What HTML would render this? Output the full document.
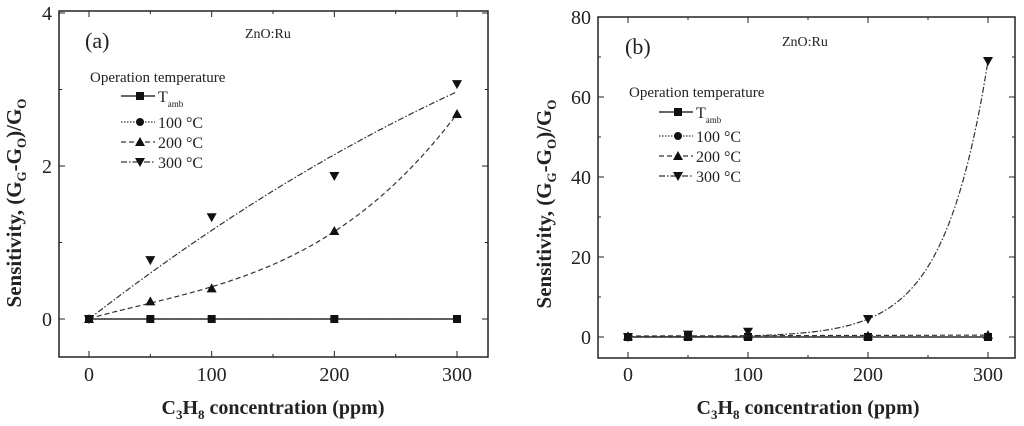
<!DOCTYPE html>
<html><head><meta charset="utf-8">
<style>
html,body{margin:0;padding:0;background:#fff;}
svg{display:block;font-family:"Liberation Serif",serif;}
</style></head>
<body>
<svg id="chart" width="1024" height="426" viewBox="0 0 1024 426" xmlns="http://www.w3.org/2000/svg"></svg>
<script>
const concentrations = [0, 50, 100, 200, 300];
const aTamb = [0, 0, 0, 0, 0];
const a100 = [0, 0, 0, 0, 0];
const a200 = [0, 0.23, 0.40, 1.15, 2.68];
const a300 = [0, 0.77, 1.33, 1.87, 3.07];
const bTamb = [0, 0, 0, 0, 0];
const b100 = [0, 0, 0, 0, 0];
const b200 = [0.2, 0.3, 0.4, 0.3, 0.5];
const b300 = [0, 0.6, 1.3, 4.5, 69];
const xTicks = [0, 100, 200, 300];
const aYTicks = [0, 2, 4];
const bYTicks = [0, 20, 40, 60, 80];
const seriesLabels = ["T", "100 °C", "200 °C", "300 °C"];

const NS = "http://www.w3.org/2000/svg";
const svg = document.getElementById("chart");
function mk(tag, attrs, parent) {
  const e = document.createElementNS(NS, tag);
  for (const k in attrs) e.setAttribute(k, attrs[k]);
  (parent || svg).appendChild(e);
  return e;
}
// least squares with powers list
function fitPowers(xs, ys, pows) {
  const n = pows.length, A = [], b = [];
  for (let i = 0; i < n; i++) { A.push(new Array(n).fill(0)); b.push(0); }
  xs.forEach((x, k) => {
    const xx = x / 100;
    for (let i = 0; i < n; i++) {
      for (let j = 0; j < n; j++) A[i][j] += Math.pow(xx, pows[i] + pows[j]);
      b[i] += ys[k] * Math.pow(xx, pows[i]);
    }
  });
  for (let i = 0; i < n; i++) {
    let p = i; for (let r = i + 1; r < n; r++) if (Math.abs(A[r][i]) > Math.abs(A[p][i])) p = r;
    [A[i], A[p]] = [A[p], A[i]]; [b[i], b[p]] = [b[p], b[i]];
    for (let r = i + 1; r < n; r++) { const f = A[r][i] / A[i][i]; for (let c = i; c < n; c++) A[r][c] -= f * A[i][c]; b[r] -= f * b[i]; }
  }
  const c = new Array(n).fill(0);
  for (let i = n - 1; i >= 0; i--) { let s = b[i]; for (let j = i + 1; j < n; j++) s -= A[i][j] * c[j]; c[i] = s / A[i][i]; }
  return x => c.reduce((s, ci, i) => s + ci * Math.pow(x / 100, pows[i]), 0);
}
function expFit(xs, ys) {
  const n = xs.length, x1 = xs[n - 2], x2 = xs[n - 1], y1 = ys[n - 2], y2 = ys[n - 1];
  const k = Math.log(y2 / y1) / (x2 - x1), a = y2 / Math.exp(k * x2);
  return x => a * Math.exp(k * x);
}
function marker(g, type, x, y, s) {
  if (type === "square") mk("rect", {x: x - s, y: y - s, width: 2 * s, height: 2 * s, fill: "#111"}, g);
  else if (type === "circle") mk("circle", {cx: x, cy: y, r: s, fill: "#111"}, g);
  else if (type === "up") mk("polygon", {points: `${x},${y - s - 1} ${x - s - 1},${y + s} ${x + s + 1},${y + s}`, fill: "#111"}, g);
  else mk("polygon", {points: `${x},${y + s + 1} ${x - s - 1},${y - s} ${x + s + 1},${y - s}`, fill: "#111"}, g);
}

function panel(o) {
  const g = mk("g", {});
  
  
  const X = v => o.x0 + (v - 0) / 300 * (o.x300 - o.x0);
  const Y = v => o.y0 - v * o.ppu;
  const fr = mk("rect", {x: o.L, y: o.T, width: o.R - o.L, height: o.B - o.T, fill: "none", stroke: "#222", "stroke-width": 1.5}, g);
  
  
  for (let v = 0; v <= 300; v += 50) {
    const major = v % 100 === 0, len = major ? 6 : 3;
    mk("line", {x1: X(v), x2: X(v), y1: o.B, y2: o.B - len, stroke: "#222"}, g);
    mk("line", {x1: X(v), x2: X(v), y1: o.T, y2: o.T + len, stroke: "#222"}, g);
  }
  xTicks.forEach(v => {
    const t = mk("text", {x: X(v), y: 381, "font-size": 20, "text-anchor": "middle", fill: "#222"}, g);
    t.textContent = v;
    
    
  });
  for (let v = 0; v <= o.ymax; v += o.minor) {
    const major = Math.abs(v / o.major - Math.round(v / o.major)) < 1e-6, len = major ? 6 : 3;
    mk("line", {x1: o.L, x2: o.L + len, y1: Y(v), y2: Y(v), stroke: "#222"}, g);
    mk("line", {x1: o.R, x2: o.R - len, y1: Y(v), y2: Y(v), stroke: "#222"}, g);
  }
  o.yTicks.forEach(v => {
    const t = mk("text", {x: o.L - 7, y: Y(v) + 7, "font-size": 20, "text-anchor": "end", fill: "#222"}, g);
    t.textContent = v;
    
    
  });
  const xt = mk("text", {x: o.xtx, y: 414, "font-size": 20, "font-weight": "bold", "text-anchor": "middle", fill: "#222"}, g);
  xt.innerHTML = 'C<tspan font-size="13" dy="5">3</tspan><tspan dy="-5">H</tspan><tspan font-size="13" dy="5">8</tspan><tspan dy="-5"> concentration (ppm)</tspan>';
  
  
  const yt = mk("text", {x: 0, y: 0, "font-size": 21, "font-weight": "bold", "text-anchor": "middle", fill: "#222", transform: `translate(${o.ytx},${o.yty}) rotate(-90)`}, g);
  yt.innerHTML = 'Sensitivity, (G<tspan font-size="13" dy="5">G</tspan><tspan dy="-5">-G</tspan><tspan font-size="13" dy="5">O</tspan><tspan dy="-5">)/G</tspan><tspan font-size="13" dy="5">O</tspan>';
  
  
  const pl = mk("text", {x: o.plx, y: o.ply, "font-size": 22, fill: "#222"}, g);
  pl.textContent = o.label;
  
  
  const zt = mk("text", {x: o.znx, y: o.zny, "font-size": 14, fill: "#222"}, g);
  zt.textContent = "ZnO:Ru";
  
  
  const defs = [
    {d: o.s[0], m: "square", dash: "", w: 1.6},
    {d: o.s[1], m: "circle", dash: "1.5,1.5", w: 1.2},
    {d: o.s[2], m: "up", dash: "5,3", w: 1.2},
    {d: o.s[3], m: "down", dash: "6,2,1.5,2", w: 1.2}
  ];
  defs.forEach((s, i) => {
    const sg = mk("g", {}, g);
    
    
    const f = o.fits[i](concentrations, s.d);
    let pts = [];
    for (let x = 0; x <= 300; x += 2) pts.push(X(x).toFixed(1) + "," + Y(f(x)).toFixed(1));
    const ln = mk("polyline", {points: pts.join(" "), fill: "none", stroke: "#333", "stroke-width": s.w, "stroke-dasharray": s.dash}, sg);
    
    
    concentrations.forEach((c, k) => marker(sg, s.m, X(c), Y(s.d[k]), 4));
  });
  const lg = mk("g", {}, g);
  
  
  const lt = mk("text", {x: o.lgx, y: o.lgy, "font-size": 15, fill: "#222"}, lg);
  lt.textContent = "Operation temperature";
  defs.forEach((s, i) => {
    const y = o.lgRows[i];
    const e = mk("g", {}, lg);
    
    
    mk("line", {x1: o.lgl, x2: o.lgl + 34, y1: y, y2: y, stroke: "#333", "stroke-width": s.w, "stroke-dasharray": s.dash}, e);
    marker(e, s.m, o.lgl + 19, y, 4);
    const t = mk("text", {x: o.lgl + 37, y: y + 6, "font-size": 16, fill: "#222"}, e);
    if (i === 0) t.innerHTML = 'T<tspan font-size="9" dy="5">amb</tspan>';
    else t.textContent = seriesLabels[i];
  });
}

const quad0 = (xs, ys) => fitPowers(xs, ys, [1, 2]);
const cubic = (xs, ys) => fitPowers(xs, ys, [0, 1, 2, 3]);
const lin = (xs, ys) => fitPowers(xs, ys, [0, 1]);
panel({name: "panel-a", L: 59, R: 488, T: 11, B: 357, x0: 89, x300: 457, y0: 319, ppu: 76.5, ymax: 4, major: 2, minor: 1,
  yTicks: aYTicks, s: [aTamb, a100, a200, a300], fits: [lin, lin, cubic, quad0],
  xtx: 273, ytx: 21, yty: 203, label: "(a)", plx: 85, ply: 48, znx: 245, zny: 38,
  lgx: 90, lgy: 82, lgl: 121, lgRows: [96, 122, 142, 162]});
panel({name: "panel-b", L: 598, R: 1015, T: 17, B: 358, x0: 628, x300: 988, y0: 337, ppu: 4, ymax: 80, major: 20, minor: 10,
  yTicks: bYTicks, s: [bTamb, b100, b200, b300], fits: [lin, lin, lin, expFit],
  xtx: 808, ytx: 551, yty: 204, label: "(b)", plx: 625, ply: 54, znx: 782, zny: 46,
  lgx: 629, lgy: 97, lgl: 659, lgRows: [112, 136, 156, 176]});
</script>
</body></html>
